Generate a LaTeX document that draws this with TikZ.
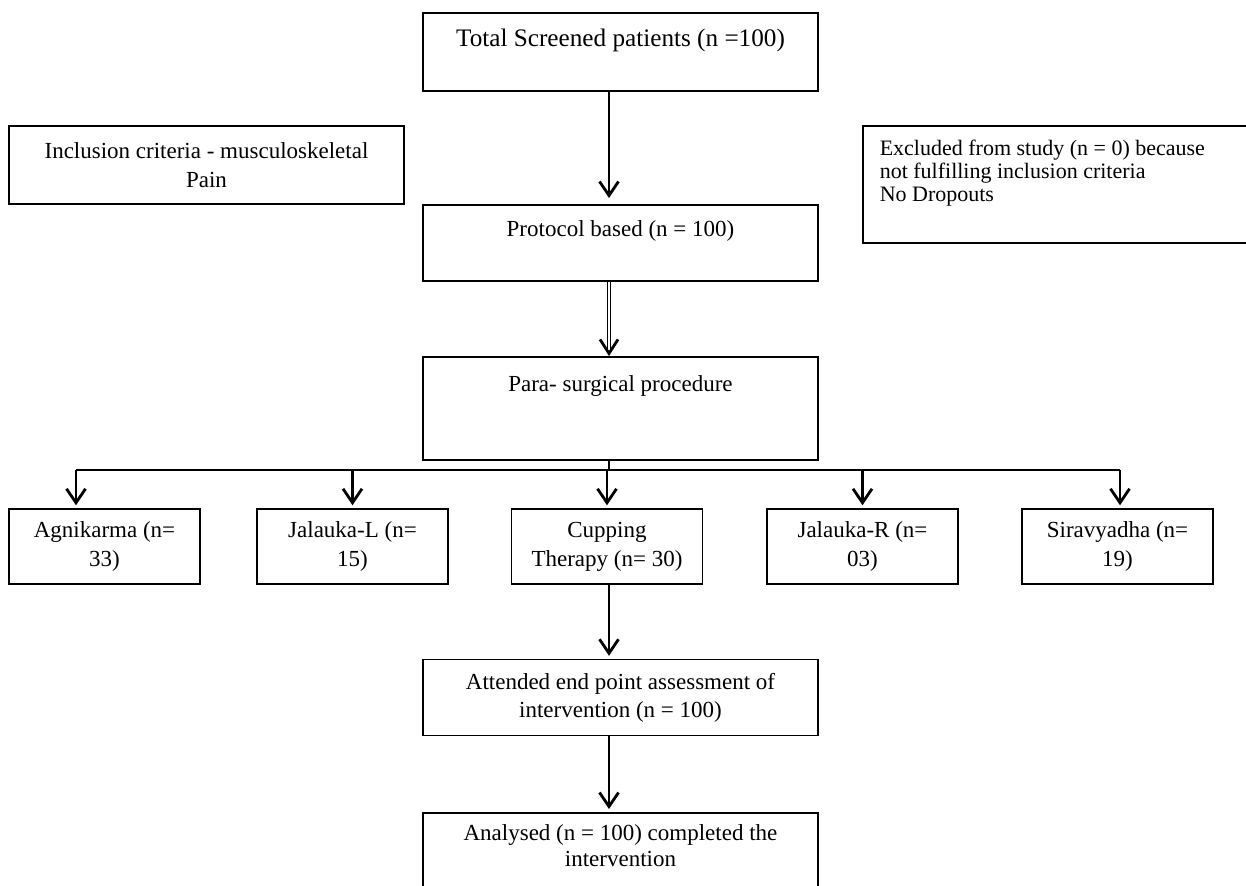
\documentclass[tikz,border=0pt]{standalone}
\usepackage{fontspec}
\setmainfont{Liberation Serif}
\usetikzlibrary{arrows.meta, calc, positioning}

\begin{document}
\begin{tikzpicture}[x=0.5pt, y=-0.5pt,
  box/.style={draw, line width=0.75pt, inner sep=0pt, font=\fontsize{11.5}{14.5}\selectfont},
  wide/.style={box, minimum width=197.5pt},
  small/.style={box, minimum width=95.5pt, minimum height=37.5pt, align=center},
  arr/.style={line width=1.4pt, shorten >=1.5pt, -{Straight Barb[length=7pt, width=9.5pt]}},
  dbl/.style={double, double distance=0.9pt, line width=0.5pt, -{Straight Barb[length=7pt, width=9pt, line width=1.4pt]}}]
  \useasboundingbox (0,0) rectangle (1246,885);
  \clip (0,0) rectangle (1246,885);

  \node[wide, anchor=north, text height=17pt, text depth=22pt, font=\fontsize{12.6}{15}\selectfont] (total) at (620.5,12) {Total Screened patients (n =100)};
  \node[wide, minimum height=39pt, align=center] (incl) at (206.5,165) {Inclusion criteria - musculoskeletal\\Pain};
  \node[box, anchor=north west, text width=180pt, inner xsep=8.5pt, align=flush left, text height=15pt, text depth=43.5pt, font=\fontsize{11}{11.5}\selectfont] (excl) at (862,125) {Excluded from study (n = 0) because\\not fulfilling inclusion criteria\\No Dropouts};
  \node[wide, anchor=north, text height=16pt, text depth=22pt] (prot) at (620.5,204) {Protocol based (n = 100)};
  \node[wide, anchor=north, text height=17.5pt, text depth=34pt] (para) at (620.5,356) {Para- surgical procedure};

  \node[small] (agni) at (104.5,546.5) {Agnikarma (n=\\33)};
  \node[small] (jall) at (352.5,546.5) {Jalauka-L (n=\\15)};
  \node[small] (cup) at (607,546.5) {Cupping\\Therapy (n= 30)};
  \node[small] (jalr) at (862.5,546.5) {Jalauka-R (n=\\03)};
  \node[small] (sira) at (1117.5,546.5) {Siravyadha (n=\\19)};

  \node[wide, minimum height=38pt, align=center, font=\fontsize{11.5}{14}\selectfont] (att) at (620.5,697.5) {Attended end point assessment of\\intervention (n = 100)};
  \node[wide, anchor=north, text width=197.5pt, align=flush center, text height=14pt, text depth=25pt, font=\fontsize{11.5}{13}\selectfont] (ana) at (620.5,812) {Analysed (n = 100) completed the\\intervention};

  \coordinate (sp) at (609,0);
  \coordinate (bl) at (76,470);
  \coordinate (br) at (1120,470);
  \draw[arr, shorten >=3pt] (sp |- total.south) -- (sp |- prot.north);
  \draw[dbl] (sp |- prot.south) -- (sp |- para.north);
  \draw[line width=1.4pt] (sp |- para.south) -- (sp |- bl);
  \draw[line width=0.85pt] (bl) -- (br);
  \draw[arr] (bl) -- (bl |- agni.north);
  \foreach \n in {jall,cup,jalr}
    \draw[arr] (\n.north |- bl) -- (\n.north);
  \draw[arr] (br) -- (br |- sira.north);
  \draw[arr] (sp |- cup.south) -- (sp |- att.north);
  \draw[arr] (sp |- att.south) -- (sp |- ana.north);
\end{tikzpicture}
\end{document}
